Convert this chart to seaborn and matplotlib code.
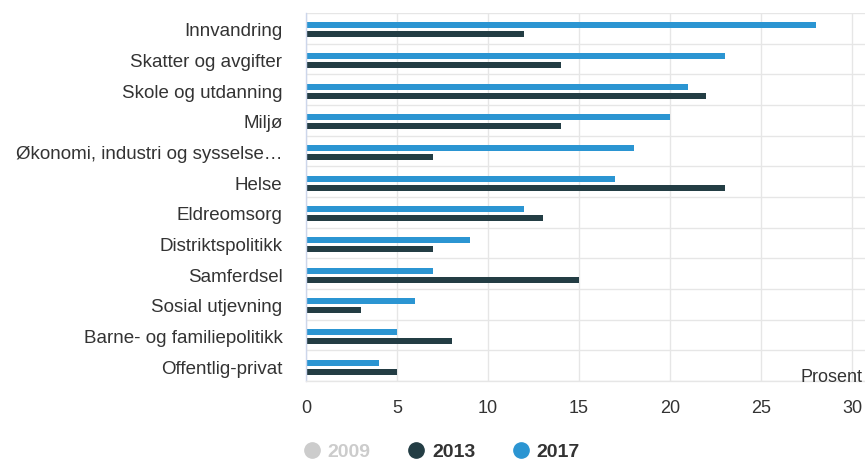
import matplotlib
matplotlib.use("Agg")
import matplotlib.pyplot as plt
from matplotlib.lines import Line2D
import seaborn as sns
import pandas as pd
import numpy as np

categories = ["Innvandring", "Skatter og avgifter", "Skole og utdanning", "Miljø",
              "Økonomi, industri og sysselse…", "Helse", "Eldreomsorg",
              "Distriktspolitikk", "Samferdsel", "Sosial utjevning",
              "Barne- og familiepolitikk", "Offentlig-privat"]
values_2013 = [12, 14, 22, 14, 7, 23, 13, 7, 15, 3, 8, 5]
values_2017 = [28, 23, 21, 20, 18, 17, 12, 9, 7, 6, 5, 4]
legend_labels = ["2009", "2013", "2017"]
x_ticks = [0, 5, 10, 15, 20, 25, 30]
x_label = "Prosent"

df = pd.DataFrame({
    "Kategori": categories * 2,
    "Prosent": values_2017 + values_2013,
    "År": ["2017"] * len(categories) + ["2013"] * len(categories),
})

sns.set_theme(style="white")
plt.rcParams["font.family"] = ["Liberation Sans", "DejaVu Sans"]

c2013 = "#233d44"
c2017 = "#2b95d2"
c2009 = "#cccccc"

W, H = 865, 462
fig = plt.figure(figsize=(W / 100, H / 100), dpi=100)
ax = fig.add_axes([306 / W, 1 - 381 / H, (W - 306) / W, 368 / H])

sns.barplot(data=df, x="Prosent", y="Kategori", hue="År", hue_order=["2017", "2013"],
            order=categories, palette={"2017": c2017, "2013": c2013},
            orient="h", width=0.6, gap=0.35, ax=ax, legend=False,
            edgecolor="none", linewidth=0, saturation=1)

n = len(categories)
shift = -0.05
ax.set_xlim(0, 30 * (W - 306) / 546)
ax.set_ylim(n - 0.5 + shift, -0.5 + shift)
ax.set_xticks(x_ticks)
ax.set_xticklabels([str(t) for t in x_ticks], fontsize=13, color="#333333")
ax.tick_params(axis="x", length=0, pad=14)
ax.set_yticks(range(n))
ax.set_yticklabels(categories, fontsize=13.5, color="#333333")
ax.tick_params(axis="y", which="major", length=0, pad=17)
ax.set_yticks(np.arange(-0.5, n, 1) + shift, minor=True)
ax.tick_params(axis="y", which="minor", length=10, width=1, color="#ccd6eb")

ax.grid(axis="x", which="major", color="#e6e6e6", linewidth=1)
ax.grid(axis="y", which="minor", color="#e6e6e6", linewidth=1)
ax.grid(axis="y", which="major", visible=False)
ax.set_axisbelow(True)

for s in ["top", "right"]:
    ax.spines[s].set_visible(False)
ax.spines["left"].set_color("#ccd6eb")
ax.spines["left"].set_linewidth(1)
ax.spines["bottom"].set_color("#e6e6e6")
ax.spines["bottom"].set_linewidth(1)
ax.set_xlabel("")
ax.set_ylabel("")

fig.text(862 / W, 1 - 378 / H, x_label, ha="right", va="center",
         fontsize=13, color="#333333")

handles = [
    Line2D([0], [0], marker="o", linestyle="none", markersize=11,
           markerfacecolor=c, markeredgecolor=c)
    for c in (c2009, c2013, c2017)
]
leg = fig.legend(handles, legend_labels, loc="center", bbox_to_anchor=(441 / W, 1 - 452 / H),
                 ncol=3, frameon=False, prop={"weight": "bold", "size": 14},
                 handletextpad=0.3, columnspacing=1.85, handlelength=1.0)
for txt, col in zip(leg.get_texts(), [c2009, "#333333", "#333333"]):
    txt.set_color(col)

fig.savefig("out.png", dpi=100)
